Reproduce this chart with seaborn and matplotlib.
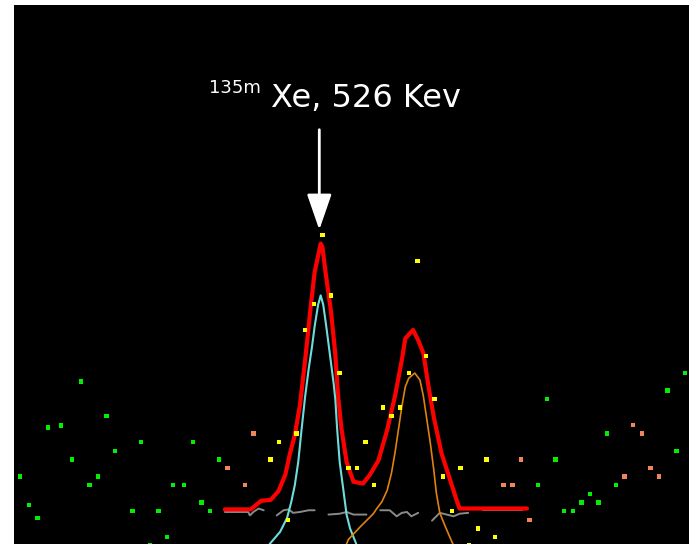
import numpy as np
import pandas as pd
import matplotlib
matplotlib.use("Agg")
import matplotlib.pyplot as plt
import seaborn as sns

# ---------------------------------------------------------------------------
# spectrum dots (channel, counts)
# ---------------------------------------------------------------------------
bg_channel = [1, 2, 3, 4.24, 5.75, 7, 8, 9, 10, 11, 12, 14, 15, 16, 17, 18, 18.7,
              20, 21, 22, 23, 24, 61, 62, 63, 64, 65, 66, 67, 68, 69, 70, 76, 77, 78]
bg_counts = [8, 4.7, 3.2, 13.7, 13.9, 10, 19, 7, 8, 15, 11, 4, 12, 0, 4, 1, 7,
             7, 12, 5, 4, 10, 7, 17, 10, 4, 4, 5, 6, 5, 13, 7, 18, 11, 20]

side_channel = [25, 27, 28, 57, 58, 59, 60, 71, 72, 73, 74, 75]
side_counts = [9, 7, 13, 7, 7, 10, 3, 8, 14, 13, 9, 8]

peak_channel = list(range(30, 57))
peak_counts = [10, 12, 3, 13, 25, 28, 36, 29, 20, 9, 9, 12, 7, 16, 15, 16, 20,
               33, 22, 17, 8, 4, 9, 0, 2, 10, 1]

# total fit (red)
fit_channel = [24.7, 27.7, 28.9, 30.0, 30.9, 31.7, 32.2, 32.8, 33.4, 34.0, 34.6,
               35.1, 35.8, 36.0, 36.4, 37.0, 37.5, 37.8, 38.2, 38.8, 39.6, 40.7,
               41.5, 42.5, 43.5, 44.4, 45.2, 45.6, 46.5, 47.1, 47.7, 48.3, 48.9,
               49.8, 50.8, 51.6, 51.9, 59.7]
fit_counts = [4.2, 4.2, 5.2, 5.3, 6.3, 8.2, 10.5, 12.8, 16.3, 21.5, 27.3,
              31.7, 35.0, 34.6, 31.4, 27.1, 22.1, 17.5, 13.6, 9.7, 7.4, 7.2,
              8.2, 9.9, 13.4, 17.3, 21.5, 24.0, 25.0, 23.8, 22.3, 18.4, 14.9,
              10.7, 7.6, 5.1, 4.3, 4.3]

# 526 keV component (cyan)
xe_channel = [29.5, 29.9, 31.1, 31.9, 32.4, 32.8, 33.2, 33.6, 34.0, 34.4, 34.8,
              35.1, 35.5, 35.8, 36.1, 36.5, 36.9, 37.3, 37.5, 37.7, 38.0, 38.5,
              38.8, 39.2, 39.8, 40.1]
xe_counts = [-0.6, 0.2, 1.6, 3.2, 5.1, 7.0, 9.7, 13.6, 17.3, 20.4, 23.1,
             25.4, 27.9, 29.0, 27.9, 25.0, 21.9, 18.8, 16.9, 13.6, 9.7, 5.9,
             3.6, 2.0, 0.5, -0.3]

# neighbour component (orange)
nb_channel = [38.6, 39.0, 40.4, 41.9, 42.3, 42.9, 43.5, 44.0, 44.4, 44.8, 45.2,
              45.6, 46.0, 46.7, 47.3, 47.7, 48.1, 48.5, 48.9, 49.2, 49.6, 50.2,
              50.8, 51.2, 51.4]
nb_counts = [-0.3, 0.7, 2.2, 3.7, 4.3, 5.1, 6.4, 8.4, 10.7, 13.4, 16.1,
             18.4, 19.4, 20.0, 19.2, 17.3, 14.6, 11.9, 8.8, 6.1, 3.8, 2.3,
             0.9, 0.0, -0.5]

# residual / baseline (grey), broken into pieces
base_segment = [1] * 6 + [2] * 7 + [3] * 5 + [4] * 7 + [5] * 6 + [6] * 2
base_channel = [24.7, 27.4, 27.6, 28.0, 28.6, 29.2,
                30.7, 31.5, 32.1, 32.6, 33.4, 34.4, 35.1,
                36.7, 38.0, 38.8, 39.6, 41.1,
                42.7, 43.8, 44.6, 45.2, 45.8, 46.3, 47.1,
                48.7, 49.6, 50.4, 51.2, 51.9, 52.9,
                54.6, 59.1]
base_counts = [3.9, 3.9, 3.5, 3.9, 4.3, 4.1,
               3.5, 4.1, 4.2, 3.8, 3.9, 4.1, 4.1,
               3.6, 3.7, 3.9, 3.6, 3.6,
               4.1, 4.1, 3.4, 3.8, 3.9, 3.4, 3.8,
               2.9, 3.8, 3.6, 3.4, 3.7, 3.8,
               4.1, 4.1]

peak_label = "Xe, 526 Kev"
peak_isotope = "135m"

# ---------------------------------------------------------------------------
dots = pd.concat([
    pd.DataFrame({"channel": bg_channel, "counts": bg_counts, "region": "bg"}),
    pd.DataFrame({"channel": side_channel, "counts": side_counts, "region": "side"}),
    pd.DataFrame({"channel": peak_channel, "counts": peak_counts, "region": "peak"}),
], ignore_index=True)
base = pd.DataFrame({"channel": base_channel, "counts": base_counts, "seg": base_segment})

sns.set_theme(style="dark")
plt.rcParams["font.family"] = ["DejaVu Sans"]

fig = plt.figure(figsize=(6.89, 5.44), dpi=100, facecolor="white")
ax = fig.add_axes([14 / 689, 0, 675 / 689, 539 / 544])
ax.set_facecolor("black")

sns.lineplot(data=base, x="channel", y="counts", units="seg", estimator=None,
             sort=False, color="#8a8a8a", linewidth=1.4, ax=ax, zorder=2)
sns.lineplot(x=fit_channel, y=fit_counts, sort=False, estimator=None,
             color="#ff0000", linewidth=3.0, ax=ax, zorder=3)
sns.lineplot(x=xe_channel, y=xe_counts, sort=False, estimator=None,
             color="#6fdcdc", linewidth=1.5, ax=ax, zorder=4)
sns.lineplot(x=nb_channel, y=nb_counts, sort=False, estimator=None,
             color="#e0820e", linewidth=1.2, ax=ax, zorder=4)
sns.scatterplot(data=dots, x="channel", y="counts", hue="region",
                palette={"bg": "#00f000", "side": "#f0845a", "peak": "#ffff00"},
                marker="s", s=10, linewidth=0, legend=False, ax=ax, zorder=5)

# label + arrow on the 526 keV peak
ax.annotate("", xy=(35.64, 36.6), xytext=(35.64, 48.2),
            arrowprops=dict(arrowstyle="-|>,head_length=1.1,head_width=0.38",
                            color="white", lw=2, mutation_scale=20,
                            shrinkA=0, shrinkB=0))
ax.text(30.04, 50.86, peak_label, color="white", fontsize=23, va="baseline", ha="left")
ax.text(22.86, 52.48, peak_isotope, color="white", fontsize=13, va="baseline", ha="left")

ax.set_xlim(0.27, 78.47)
ax.set_ylim(0.19, 62.65)
ax.set_xticks([])
ax.set_yticks([])
ax.set_xlabel("")
ax.set_ylabel("")
for s in ax.spines.values():
    s.set_visible(False)

fig.savefig("out.png", dpi=100, facecolor="white")
